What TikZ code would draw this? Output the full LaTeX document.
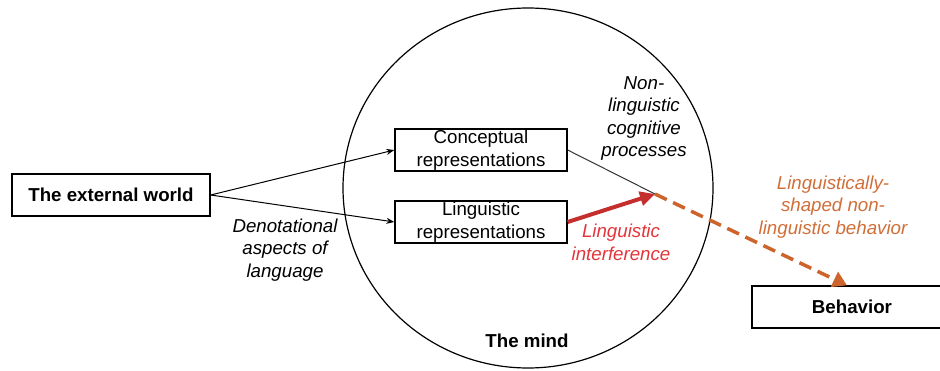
\documentclass[tikz,border=0pt]{standalone}
\usepackage{fontspec}
\setmainfont{Liberation Sans}
\usetikzlibrary{arrows.meta}
\definecolor{arrowred}{RGB}{196,46,44}
\definecolor{textred}{RGB}{228,52,58}
\definecolor{dashorange}{RGB}{204,100,44}
\definecolor{textorange}{RGB}{208,110,56}
\begin{document}
\begin{tikzpicture}[x=1pt,y=1pt,
  every node/.style={font=\fontsize{18.7}{22.5}\selectfont, inner sep=0pt},
  box/.style={draw=black, line width=1.3pt, minimum height=42pt, align=center},
  label/.style={align=center, font=\fontsize{18.7}{22.5}\selectfont\itshape},
  thin arrow/.style={draw=black, line width=1pt, -{Stealth[length=8pt,width=6pt]}},
  link/.style={draw=black!80, line width=1pt}]
\useasboundingbox (0,0) rectangle (940,370);
\clip (0,0) rectangle (940,370);

% the mind
\draw[line width=1.2pt] (528,182) ellipse [x radius=185, y radius=180];
\node[font=\fontsize{18.7}{22.5}\selectfont\bfseries] (mind) at (527,29) {The mind};

% boxes
\node[box, minimum width=198pt, font=\fontsize{18.7}{22.5}\selectfont\bfseries] (world) at (111,175) {The external world};
\node[box, minimum width=172pt] (concept) at (481,220) {Conceptual\\representations};
\node[box, minimum width=172pt] (ling) at (481,148) {Linguistic\\representations};
\node[box, minimum width=200pt, font=\fontsize{18.7}{22.5}\selectfont\bfseries] (beh) at (852,63) {Behavior};

\coordinate (junc) at (655,176);

% connectors
\draw[thin arrow] (world.east) -- (concept.west);
\draw[thin arrow] (world.east) -- (ling.west);
\draw[link] (concept.east) -- (junc);
\draw[dashorange, line width=3.5pt, dash pattern=on 13pt off 7pt,
  -{Triangle[length=14pt,width=16pt]}] (junc) -- ([xshift=-5pt]beh.north);
\draw[arrowred, line width=4pt, -{Triangle[length=15pt,width=14pt]}] (ling.east) -- (junc);

% labels
\node[label] (denot) at (285,120) {Denotational\\aspects of\\language};
\node[label] (nonling) at (644,251.5) {Non-\\linguistic\\cognitive\\processes};
\node[label, text=textred] (interf) at (621,127.5) {Linguistic\\interference};
\node[label, text=textorange] (shaped) at (833,163) {Linguistically-\\shaped non-\\linguistic behavior};
\end{tikzpicture}
\end{document}
